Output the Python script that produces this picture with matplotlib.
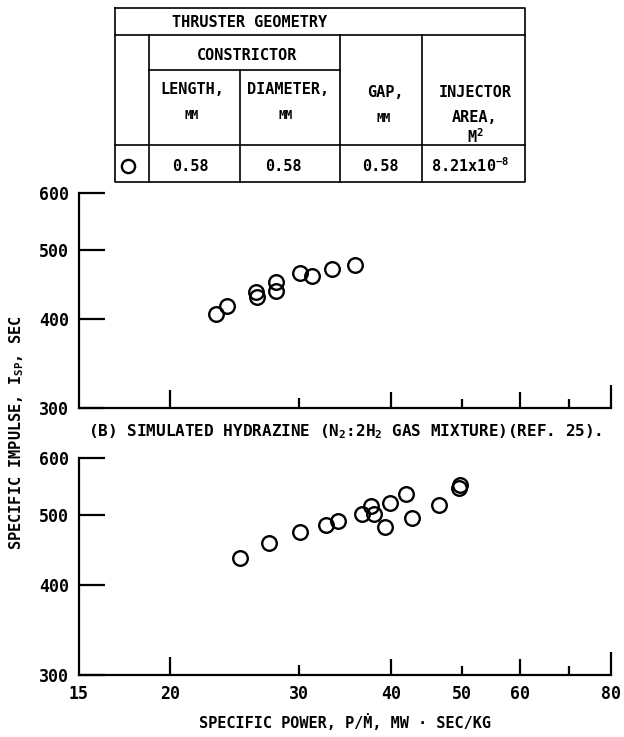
import matplotlib
matplotlib.use("Agg")
import matplotlib.pyplot as plt
from matplotlib.ticker import FixedLocator, FixedFormatter, NullLocator

plt.rcParams['font.family'] = ['DejaVu Sans Mono']
plt.rcParams['font.weight'] = 'bold'
plt.rcParams['axes.labelweight'] = 'bold'
plt.rcParams['mathtext.fontset'] = 'custom'
plt.rcParams['mathtext.rm'] = 'DejaVu Sans Mono:bold'
plt.rcParams['mathtext.it'] = 'DejaVu Sans Mono:bold'
plt.rcParams['mathtext.bf'] = 'DejaVu Sans Mono:bold'

# data
# (a) top panel
power_a = [23.1, 23.9, 26.2, 26.3, 27.9, 27.9, 30.1, 31.2, 33.3, 35.8]
isp_a = [406, 417, 436, 429, 451, 438, 464, 459, 470, 476]
# (b) simulated hydrazine
power_b = [24.9, 27.3, 30.1, 32.6, 33.9, 36.5, 37.6, 37.9, 39.3, 39.9, 42.0, 42.8, 46.6, 49.6, 49.7]
isp_b = [436, 458, 474, 485, 491, 501, 514, 501, 482, 520, 535, 495, 516, 546, 550]

x_ticks = [15, 20, 30, 40, 50, 60, 70, 80]
x_labels = ['15', '20', '30', '40', '50', '60', '', '80']
x_tick_len = [0, 18, 10, 16, 9, 16, 9, 23]   # px
y_ticks = [300, 400, 500, 600]
y_labels = ['300', '400', '500', '600']

geom_values = ['0.58', '0.58', '0.58', '8.21x10$^{-8}$']

caption_b = '(B) SIMULATED HYDRAZINE (N$_2$:2H$_2$ GAS MIXTURE)(REF. 25).'

W, H = 624, 737
fig = plt.figure(figsize=(W / 100, H / 100), dpi=100)

PT = 0.72  # px -> pt


def setup(ax, show_xlabels):
    ax.set_xscale('log')
    ax.set_yscale('log')
    ax.set_xlim(15, 80)
    ax.set_ylim(300, 600)
    for s in ['top', 'right']:
        ax.spines[s].set_visible(False)
    for s in ['left', 'bottom']:
        ax.spines[s].set_linewidth(1.6)
    ax.xaxis.set_major_locator(FixedLocator(x_ticks))
    ax.xaxis.set_minor_locator(NullLocator())
    ax.yaxis.set_major_locator(FixedLocator(y_ticks))
    ax.yaxis.set_minor_locator(NullLocator())
    ax.xaxis.set_major_formatter(FixedFormatter(x_labels if show_xlabels else [''] * len(x_ticks)))
    ax.yaxis.set_major_formatter(FixedFormatter(y_labels))
    ax.tick_params(axis='both', direction='in', width=1.6, labelsize=12)
    ax.tick_params(axis='y', length=26 * PT, pad=7)
    ax.tick_params(axis='x', pad=7)
    for t, ln in zip(ax.xaxis.get_major_ticks(len(x_ticks)), x_tick_len):
        t.tick1line.set_markersize(ln * PT)


def box(x0, y0, x1, y1):
    return [x0 / W, 1 - y1 / H, (x1 - x0) / W, (y1 - y0) / H]


ax1 = fig.add_axes(box(79, 193, 611, 408))
setup(ax1, False)
ax1.plot(power_a, isp_a, 'o', mfc='none', mec='black', ms=10.5, mew=1.7, clip_on=False)

ax2 = fig.add_axes(box(79, 458, 611, 675))
setup(ax2, True)
ax2.plot(power_b, isp_b, 'o', mfc='none', mec='black', ms=10.5, mew=1.7, clip_on=False)
ax2.set_xlabel('SPECIFIC POWER, P/Ṁ, MW · SEC/KG', fontsize=11, labelpad=8)

fig.text(345 / W, 1 - 432 / H, caption_b, ha='center', va='center', fontsize=11.5)
fig.text(17 / W, 1 - 433 / H, 'SPECIFIC IMPULSE, I$_{SP}$, SEC', rotation=90,
         ha='center', va='center', fontsize=11)

# thruster geometry table, drawn in pixel coords
tb = fig.add_axes([0, 0, 1, 1], zorder=-1)
tb.set_xlim(0, W)
tb.set_ylim(H, 0)
tb.axis('off')
lw = 1.2
tb.plot([115, 525, 525, 115, 115], [8, 8, 182, 182, 8], color='black', lw=lw)
tb.plot([115, 525], [35, 35], color='black', lw=lw)
tb.plot([149, 340], [70, 70], color='black', lw=lw)
tb.plot([115, 525], [145, 145], color='black', lw=lw)
tb.plot([149, 149], [35, 182], color='black', lw=lw)
tb.plot([240, 240], [70, 182], color='black', lw=lw)
tb.plot([340, 340], [35, 182], color='black', lw=lw)
tb.plot([422, 422], [35, 182], color='black', lw=lw)

fs = 11
tb.text(172, 22, 'THRUSTER GEOMETRY', ha='left', va='center', fontsize=fs)
tb.text(247, 55, 'CONSTRICTOR', ha='center', va='center', fontsize=fs)
tb.text(192, 89, 'LENGTH,', ha='center', va='center', fontsize=fs)
tb.text(192, 115, 'MM', ha='center', va='center', fontsize=8.5)
tb.text(288, 89, 'DIAMETER,', ha='center', va='center', fontsize=fs)
tb.text(286, 115, 'MM', ha='center', va='center', fontsize=8.5)
tb.text(385, 92, 'GAP,', ha='center', va='center', fontsize=fs)
tb.text(384, 118, 'MM', ha='center', va='center', fontsize=8.5)
tb.text(475, 92, 'INJECTOR', ha='center', va='center', fontsize=fs)
tb.text(475, 117, 'AREA,', ha='center', va='center', fontsize=fs)
tb.text(475, 137, 'M$^2$', ha='center', va='center', fontsize=fs)
tb.plot([128], [166], 'o', mfc='none', mec='black', ms=9.5, mew=1.7)
for xc, v in zip([190, 283, 380, 470], geom_values):
    tb.text(xc, 166, v, ha='center', va='center', fontsize=fs)

fig.savefig('out.png', dpi=100)
